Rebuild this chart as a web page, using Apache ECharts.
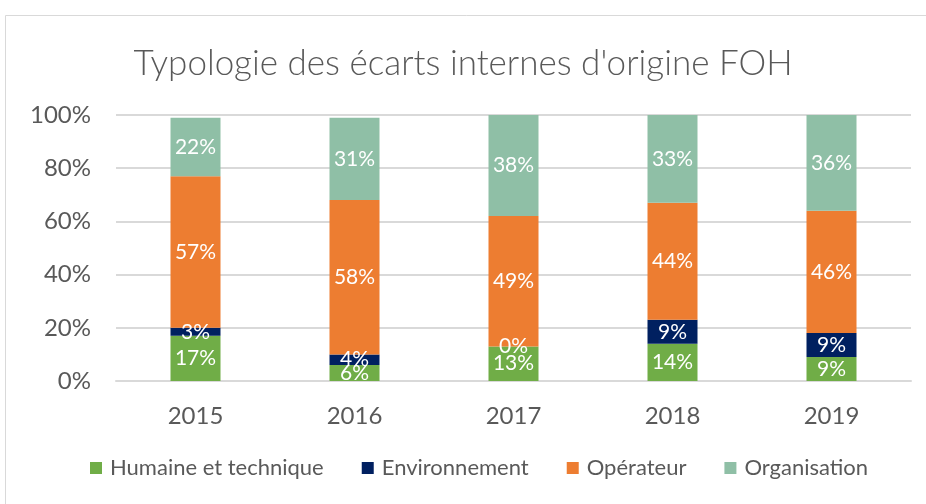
<!DOCTYPE html>
<html>
<head>
<meta charset="utf-8">
<script src="https://cdn.jsdelivr.net/npm/echarts@6/dist/echarts.min.js"></script>
<style>
  html, body { margin: 0; padding: 0; background: #fff; }
  #graph { width: 926px; height: 504px; }
</style>
</head>
<body>
<div id="graph"></div>
<script>
// années
const years = ['2015', '2016', '2017', '2018', '2019']
// parts en %
const humaine = [17, 6, 13, 14, 9]
const environnement = [3, 4, 0, 9, 9]
const operateur = [57, 58, 49, 44, 46]
const organisation = [22, 31, 38, 33, 36]
const yTicks = [0, 20, 40, 60, 80, 100]

const font = 'Lato, "Open Sans", sans-serif'

let chart = echarts.init(document.getElementById('graph'))

function serie (name, data, color) {
  return {
    name: name,
    type: 'bar',
    stack: 'total',
    barWidth: 50,
    data: data,
    itemStyle: { color: color },
    label: {
      show: true,
      position: 'inside',
      color: '#fff',
      fontFamily: font,
      fontSize: 21,
      formatter: '{c}%'
    }
  }
}

let option = {
  animation: false,
  backgroundColor: '#fff',
  title: {
    text: "Typologie des écarts internes d'origine FOH",
    left: 'center',
    top: 41,
    textStyle: { fontFamily: font, fontSize: 35, fontWeight: 300, color: '#595959' }
  },
  graphic: [{
    type: 'rect',
    shape: { x: 5.5, y: 15.5, width: 940, height: 500 },
    style: { fill: 'none', stroke: '#d9d9d9', lineWidth: 1 },
    silent: true
  }],
  grid: { left: 116, right: 15, top: 115, bottom: 123 },
  legend: {
    bottom: 20,
    left: 85,
    itemWidth: 12,
    itemHeight: 12,
    itemGap: 38,
    icon: 'rect',
    textStyle: { fontFamily: font, fontSize: 22, color: '#595959', padding: [0, 0, 0, 3] },
    data: ['Humaine et technique', 'Environnement', 'Opérateur', 'Organisation']
  },
  xAxis: {
    type: 'category',
    data: years,
    axisLine: { lineStyle: { color: '#d9d9d9', width: 2 } },
    axisTick: { show: false },
    axisLabel: { fontFamily: font, fontSize: 24, color: '#595959', margin: 23 }
  },
  yAxis: {
    type: 'value',
    min: yTicks[0],
    max: yTicks[yTicks.length - 1],
    interval: 20,
    axisLine: { show: false },
    axisTick: { show: false },
    splitLine: { lineStyle: { color: '#d9d9d9', width: 2 } },
    axisLabel: { fontFamily: font, fontSize: 24, color: '#595959', margin: 25, formatter: '{value}%' }
  },
  series: [
    serie('Humaine et technique', humaine, '#70ad47'),
    serie('Environnement', environnement, '#002060'),
    serie('Opérateur', operateur, '#ed7d31'),
    serie('Organisation', organisation, '#8fbfa6')
  ]
}

chart.setOption(option)
</script>
</body>
</html>
